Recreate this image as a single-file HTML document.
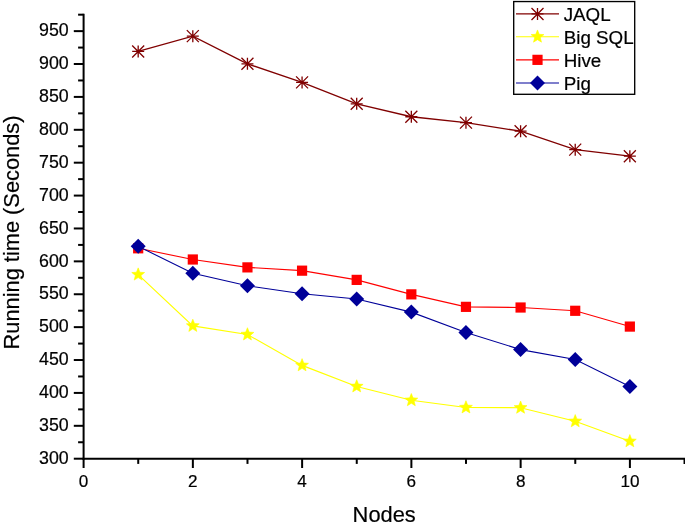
<!DOCTYPE html>
<html><head><meta charset="utf-8"><title>Chart</title>
<style>
html,body{margin:0;padding:0;background:#fff;}
body{width:685px;height:529px;overflow:hidden;font-family:"Liberation Sans",sans-serif;}
svg{display:block;will-change:transform;}
text{font-family:"Liberation Sans",sans-serif;fill:#000;stroke:#000;stroke-width:0.2px;}
</style></head><body>
<svg width="685" height="529" viewBox="0 0 685 529">
<rect width="685" height="529" fill="#fff"/>

<polyline points="138.18,51.42 192.81,36.16 247.44,63.79 302.07,82.41 356.70,103.79 411.33,116.74 465.96,122.66 520.59,131.22 575.22,149.63 629.85,156.21" fill="none" stroke="#800000" stroke-width="1.3"/><path d="M138.18 45.42V57.42M132.18 51.42H144.18M132.18 45.42L144.18 57.42M132.18 57.42L144.18 45.42" stroke="#800000" stroke-width="1.3" fill="none"/><path d="M192.81 30.16V42.16M186.81 36.16H198.81M186.81 30.16L198.81 42.16M186.81 42.16L198.81 30.16" stroke="#800000" stroke-width="1.3" fill="none"/><path d="M247.44 57.79V69.79M241.44 63.79H253.44M241.44 57.79L253.44 69.79M241.44 69.79L253.44 57.79" stroke="#800000" stroke-width="1.3" fill="none"/><path d="M302.07 76.41V88.41M296.07 82.41H308.07M296.07 76.41L308.07 88.41M296.07 88.41L308.07 76.41" stroke="#800000" stroke-width="1.3" fill="none"/><path d="M356.70 97.79V109.79M350.70 103.79H362.70M350.70 97.79L362.70 109.79M350.70 109.79L362.70 97.79" stroke="#800000" stroke-width="1.3" fill="none"/><path d="M411.33 110.74V122.74M405.33 116.74H417.33M405.33 110.74L417.33 122.74M405.33 122.74L417.33 110.74" stroke="#800000" stroke-width="1.3" fill="none"/><path d="M465.96 116.66V128.66M459.96 122.66H471.96M459.96 116.66L471.96 128.66M459.96 128.66L471.96 116.66" stroke="#800000" stroke-width="1.3" fill="none"/><path d="M520.59 125.22V137.22M514.59 131.22H526.59M514.59 125.22L526.59 137.22M514.59 137.22L526.59 125.22" stroke="#800000" stroke-width="1.3" fill="none"/><path d="M575.22 143.63V155.63M569.22 149.63H581.22M569.22 143.63L581.22 155.63M569.22 155.63L581.22 143.63" stroke="#800000" stroke-width="1.3" fill="none"/><path d="M629.85 150.21V162.21M623.85 156.21H635.85M623.85 150.21L635.85 162.21M623.85 162.21L635.85 150.21" stroke="#800000" stroke-width="1.3" fill="none"/>
<polyline points="138.18,274.62 192.81,325.92 247.44,334.48 302.07,365.39 356.70,386.44 411.33,400.26 465.96,407.49 520.59,407.75 575.22,421.31 629.85,441.30" fill="none" stroke="#ffff00" stroke-width="1.15"/><polygon points="138.18,267.87 139.91,272.23 144.60,272.53 140.99,275.53 142.15,280.08 138.18,277.57 134.21,280.08 135.37,275.53 131.76,272.53 136.45,272.23" fill="#ffff00" stroke="#ffff00" stroke-width="0.6" stroke-linejoin="round"/><polygon points="192.81,319.17 194.54,323.54 199.23,323.84 195.62,326.84 196.78,331.39 192.81,328.87 188.84,331.39 190.00,326.84 186.39,323.84 191.08,323.54" fill="#ffff00" stroke="#ffff00" stroke-width="0.6" stroke-linejoin="round"/><polygon points="247.44,327.73 249.17,332.09 253.86,332.39 250.25,335.39 251.41,339.94 247.44,337.43 243.47,339.94 244.63,335.39 241.02,332.39 245.71,332.09" fill="#ffff00" stroke="#ffff00" stroke-width="0.6" stroke-linejoin="round"/><polygon points="302.07,358.64 303.80,363.01 308.49,363.31 304.88,366.30 306.04,370.85 302.07,368.34 298.10,370.85 299.26,366.30 295.65,363.31 300.34,363.01" fill="#ffff00" stroke="#ffff00" stroke-width="0.6" stroke-linejoin="round"/><polygon points="356.70,379.69 358.43,384.06 363.12,384.36 359.51,387.35 360.67,391.90 356.70,389.39 352.73,391.90 353.89,387.35 350.28,384.36 354.97,384.06" fill="#ffff00" stroke="#ffff00" stroke-width="0.6" stroke-linejoin="round"/><polygon points="411.33,393.51 413.06,397.87 417.75,398.17 414.14,401.17 415.30,405.72 411.33,403.21 407.36,405.72 408.52,401.17 404.91,398.17 409.60,397.87" fill="#ffff00" stroke="#ffff00" stroke-width="0.6" stroke-linejoin="round"/><polygon points="465.96,400.74 467.69,405.10 472.38,405.41 468.77,408.40 469.93,412.95 465.96,410.44 461.99,412.95 463.15,408.40 459.54,405.41 464.23,405.10" fill="#ffff00" stroke="#ffff00" stroke-width="0.6" stroke-linejoin="round"/><polygon points="520.59,401.00 522.32,405.37 527.01,405.67 523.40,408.67 524.56,413.22 520.59,410.70 516.62,413.22 517.78,408.67 514.17,405.67 518.86,405.37" fill="#ffff00" stroke="#ffff00" stroke-width="0.6" stroke-linejoin="round"/><polygon points="575.22,414.56 576.95,418.92 581.64,419.22 578.03,422.22 579.19,426.77 575.22,424.26 571.25,426.77 572.41,422.22 568.80,419.22 573.49,418.92" fill="#ffff00" stroke="#ffff00" stroke-width="0.6" stroke-linejoin="round"/><polygon points="629.85,434.55 631.58,438.92 636.27,439.22 632.66,442.21 633.82,446.76 629.85,444.25 625.88,446.76 627.04,442.21 623.43,439.22 628.12,438.92" fill="#ffff00" stroke="#ffff00" stroke-width="0.6" stroke-linejoin="round"/>
<polyline points="138.18,248.30 192.81,259.49 247.44,267.38 302.07,270.67 356.70,279.88 411.33,294.35 465.96,306.85 520.59,307.51 575.22,310.79 629.85,326.58" fill="none" stroke="#ff0000" stroke-width="1.1"/><rect x="133.08" y="243.20" width="10.20" height="10.20" fill="#ff0000"/><rect x="187.71" y="254.39" width="10.20" height="10.20" fill="#ff0000"/><rect x="242.34" y="262.28" width="10.20" height="10.20" fill="#ff0000"/><rect x="296.97" y="265.57" width="10.20" height="10.20" fill="#ff0000"/><rect x="351.60" y="274.78" width="10.20" height="10.20" fill="#ff0000"/><rect x="406.23" y="289.25" width="10.20" height="10.20" fill="#ff0000"/><rect x="460.86" y="301.75" width="10.20" height="10.20" fill="#ff0000"/><rect x="515.49" y="302.41" width="10.20" height="10.20" fill="#ff0000"/><rect x="570.12" y="305.69" width="10.20" height="10.20" fill="#ff0000"/><rect x="624.75" y="321.48" width="10.20" height="10.20" fill="#ff0000"/>
<polyline points="138.18,246.33 192.81,273.30 247.44,285.80 302.07,293.69 356.70,298.95 411.33,312.11 465.96,332.50 520.59,349.61 575.22,359.47 629.85,386.44" fill="none" stroke="#000099" stroke-width="1.1"/><polygon points="138.18,238.83 145.68,246.33 138.18,253.83 130.68,246.33" fill="#000099"/><polygon points="192.81,265.80 200.31,273.30 192.81,280.80 185.31,273.30" fill="#000099"/><polygon points="247.44,278.30 254.94,285.80 247.44,293.30 239.94,285.80" fill="#000099"/><polygon points="302.07,286.19 309.57,293.69 302.07,301.19 294.57,293.69" fill="#000099"/><polygon points="356.70,291.45 364.20,298.95 356.70,306.45 349.20,298.95" fill="#000099"/><polygon points="411.33,304.61 418.83,312.11 411.33,319.61 403.83,312.11" fill="#000099"/><polygon points="465.96,325.00 473.46,332.50 465.96,340.00 458.46,332.50" fill="#000099"/><polygon points="520.59,342.11 528.09,349.61 520.59,357.11 513.09,349.61" fill="#000099"/><polygon points="575.22,351.97 582.72,359.47 575.22,366.97 567.72,359.47" fill="#000099"/><polygon points="629.85,378.94 637.35,386.44 629.85,393.94 622.35,386.44" fill="#000099"/>
<g stroke="#000" stroke-width="2" fill="none">
<path d="M83.60 13.68V459.70"/>
<path d="M82.60 458.70H685"/>
<path d="M73.80 458.70H83.60"/>
<path d="M78.10 442.25H83.60"/>
<path d="M73.80 425.81H83.60"/>
<path d="M78.10 409.37H83.60"/>
<path d="M73.80 392.92H83.60"/>
<path d="M78.10 376.47H83.60"/>
<path d="M73.80 360.03H83.60"/>
<path d="M78.10 343.58H83.60"/>
<path d="M73.80 327.14H83.60"/>
<path d="M78.10 310.69H83.60"/>
<path d="M73.80 294.25H83.60"/>
<path d="M78.10 277.80H83.60"/>
<path d="M73.80 261.36H83.60"/>
<path d="M78.10 244.91H83.60"/>
<path d="M73.80 228.47H83.60"/>
<path d="M78.10 212.02H83.60"/>
<path d="M73.80 195.58H83.60"/>
<path d="M78.10 179.13H83.60"/>
<path d="M73.80 162.69H83.60"/>
<path d="M78.10 146.24H83.60"/>
<path d="M73.80 129.80H83.60"/>
<path d="M78.10 113.35H83.60"/>
<path d="M73.80 96.91H83.60"/>
<path d="M78.10 80.46H83.60"/>
<path d="M73.80 64.02H83.60"/>
<path d="M78.10 47.57H83.60"/>
<path d="M73.80 31.13H83.60"/>
<path d="M78.10 14.68H83.60"/>
<path d="M83.60 458.70V468.00"/>
<path d="M138.23 458.70V463.90"/>
<path d="M192.86 458.70V468.00"/>
<path d="M247.49 458.70V463.90"/>
<path d="M302.12 458.70V468.00"/>
<path d="M356.75 458.70V463.90"/>
<path d="M411.38 458.70V468.00"/>
<path d="M466.01 458.70V463.90"/>
<path d="M520.64 458.70V468.00"/>
<path d="M575.27 458.70V463.90"/>
<path d="M629.90 458.70V468.00"/>
<path d="M684.53 458.70V463.90"/>
</g>
<text x="68.7" y="463.85" font-size="17.8" text-anchor="end">300</text>
<text x="68.7" y="430.96" font-size="17.8" text-anchor="end">350</text>
<text x="68.7" y="398.07" font-size="17.8" text-anchor="end">400</text>
<text x="68.7" y="365.18" font-size="17.8" text-anchor="end">450</text>
<text x="68.7" y="332.29" font-size="17.8" text-anchor="end">500</text>
<text x="68.7" y="299.40" font-size="17.8" text-anchor="end">550</text>
<text x="68.7" y="266.51" font-size="17.8" text-anchor="end">600</text>
<text x="68.7" y="233.62" font-size="17.8" text-anchor="end">650</text>
<text x="68.7" y="200.73" font-size="17.8" text-anchor="end">700</text>
<text x="68.7" y="167.84" font-size="17.8" text-anchor="end">750</text>
<text x="68.7" y="134.95" font-size="17.8" text-anchor="end">800</text>
<text x="68.7" y="102.06" font-size="17.8" text-anchor="end">850</text>
<text x="68.7" y="69.17" font-size="17.8" text-anchor="end">900</text>
<text x="68.7" y="36.28" font-size="17.8" text-anchor="end">950</text>
<text x="83.60" y="487.1" font-size="17.1" text-anchor="middle">0</text>
<text x="192.86" y="487.1" font-size="17.1" text-anchor="middle">2</text>
<text x="302.12" y="487.1" font-size="17.1" text-anchor="middle">4</text>
<text x="411.38" y="487.1" font-size="17.1" text-anchor="middle">6</text>
<text x="520.64" y="487.1" font-size="17.1" text-anchor="middle">8</text>
<text x="629.90" y="487.1" font-size="17.1" text-anchor="middle">10</text>
<text x="384.2" y="522" font-size="21.85" text-anchor="middle">Nodes</text>
<text transform="translate(18.9,232.5) rotate(-90)" font-size="21.8" text-anchor="middle">Running time (Seconds)</text>
<rect x="513.7" y="1.55" width="121.0" height="92.75" fill="#fff" stroke="#000" stroke-width="1.35"/>
<path d="M516 13.95H559" stroke="#800000" stroke-width="1.3"/>
<path d="M537.50 7.95V19.95M531.50 13.95H543.50M531.50 7.95L543.50 19.95M531.50 19.95L543.50 7.95" stroke="#800000" stroke-width="1.3" fill="none"/>
<text x="563.7" y="20.50" font-size="18.8">JAQL</text>
<path d="M516 36.70H559" stroke="#ffff00" stroke-width="1.15"/>
<polygon points="537.50,29.95 539.23,34.31 543.92,34.61 540.31,37.61 541.47,42.16 537.50,39.65 533.53,42.16 534.69,37.61 531.08,34.61 535.77,34.31" fill="#ffff00" stroke="#ffff00" stroke-width="0.6" stroke-linejoin="round"/>
<text x="563.7" y="43.50" font-size="18.8">Big SQL</text>
<path d="M516 59.85H559" stroke="#ff0000" stroke-width="1.1"/>
<rect x="532.40" y="54.75" width="10.20" height="10.20" fill="#ff0000"/>
<text x="563.7" y="66.50" font-size="18.8">Hive</text>
<path d="M516 83.05H559" stroke="#000099" stroke-width="1.1"/>
<polygon points="537.50,75.55 545.00,83.05 537.50,90.55 530.00,83.05" fill="#000099"/>
<text x="563.7" y="89.70" font-size="18.8">Pig</text>
</svg></body></html>
